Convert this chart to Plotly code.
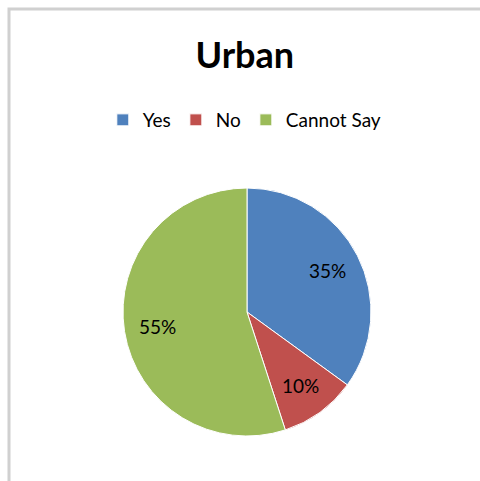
import math
import plotly.graph_objects as go

# Survey responses, urban respondents
categories = ["Yes", "No", "Cannot Say"]
shares = [35, 10, 55]
slice_colors = ["#4F81BD", "#C0504D", "#9BBB59"]

W, H = 480, 481
pie_domain = dict(x=[123 / W, 371 / W], y=[(169 - 124) / H, (169 + 124) / H])

# Pie centre and radius in paper fractions, from its domain box
cx = (pie_domain["x"][0] + pie_domain["x"][1]) / 2
cy = (pie_domain["y"][0] + pie_domain["y"][1]) / 2
radius_px = min((pie_domain["x"][1] - pie_domain["x"][0]) * W,
                (pie_domain["y"][1] - pie_domain["y"][0]) * H) / 2
label_radius = 0.73 * radius_px

# Mid-angle of every slice (degrees clockwise from 12 o'clock)
total = sum(shares)
label_annotations = []
start = 0.0
for v in shares:
    sweep = 360.0 * v / total
    mid = math.radians(start + sweep / 2)
    start += sweep
    label_annotations.append(
        dict(
            text=f"{round(100 * v / total)}%",
            xref="paper",
            yref="paper",
            x=cx + label_radius * math.sin(mid) / W,
            y=cy + label_radius * math.cos(mid) / H,
            xanchor="center",
            yanchor="middle",
            showarrow=False,
            font=dict(family="Lato", size=19, color="#000000"),
        )
    )

fig = go.Figure(
    go.Pie(
        labels=categories,
        values=shares,
        sort=False,
        direction="clockwise",
        rotation=0,
        marker=dict(colors=slice_colors, line=dict(color="#ffffff", width=1)),
        textinfo="none",
        hoverinfo="label+percent",
        domain=pie_domain,
    )
)

fig.update_layout(
    width=W,
    height=H,
    margin=dict(l=0, r=0, t=0, b=0),
    paper_bgcolor="#ffffff",
    plot_bgcolor="#ffffff",
    font=dict(family="Lato", color="#000000"),
    title=dict(
        text="<b>Urban</b>",
        x=0.51,
        xanchor="center",
        y=1 - 55 / H,
        yanchor="middle",
        yref="container",
        font=dict(family="Lato", size=36, color="#000000"),
    ),
    legend=dict(
        orientation="h",
        x=0.51,
        xanchor="center",
        y=1 - 120 / H,
        yanchor="middle",
        font=dict(family="Lato", size=19, color="#000000"),
        itemwidth=30,
        bgcolor="rgba(0,0,0,0)",
    ),
    annotations=label_annotations,
    shapes=[
        dict(
            type="rect",
            xref="paper",
            yref="paper",
            x0=9 / W,
            x1=1.2,
            y0=-0.2,
            y1=1 - 9 / H,
            line=dict(color="#d0d0d0", width=3),
            fillcolor="rgba(0,0,0,0)",
        )
    ],
)

fig.write_html("out.html")
